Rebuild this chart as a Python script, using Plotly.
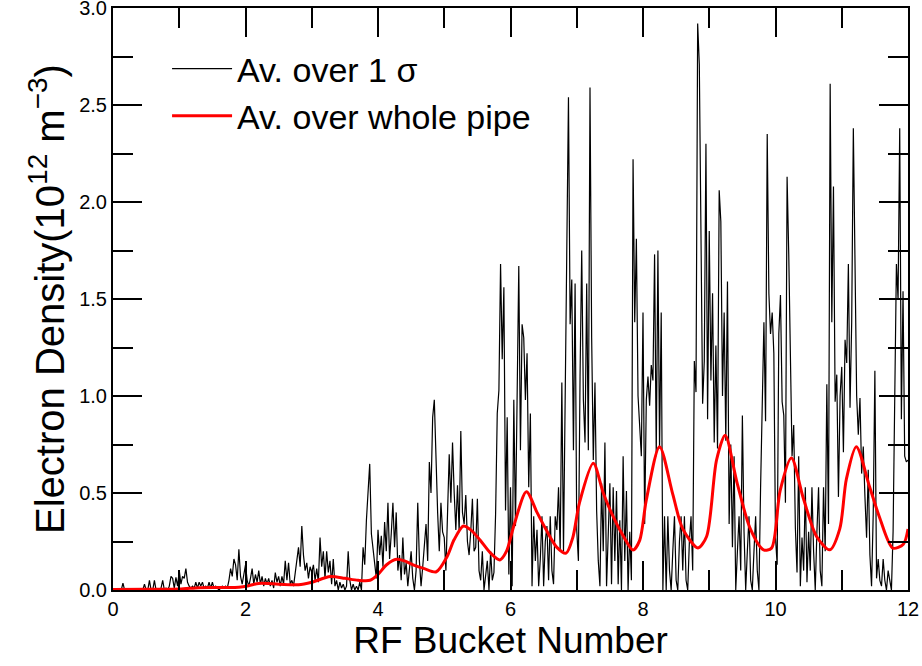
import plotly.graph_objects as go

# ---- data -------------------------------------------------------------
SAMPLE_STEP = 0.025  # RF-bucket spacing of the "1 sigma" samples

# Electron density averaged over 1 sigma (10^12 m^-3), one row per RF bucket
sigma_b0 = [0, 0, 0, 0, 0, 0, 0.035, 0, 0, 0, 0, 0, 0, 0, 0, 0, 0, 0, 0, 0.03,
            0, 0, 0.05, 0, 0, 0.05, 0, 0, 0, 0.01, 0.05, 0, 0.01, 0, 0.02, 0.07, 0.06, 0.01, 0.065, 0.02]
sigma_b1 = [0.10, 0.03, 0.07, 0.06, 0.11, 0.04, 0.02, 0.01, 0.02, 0.01, 0.04, 0.01, 0.04, 0.02, 0.04, 0.01, 0.02, 0.01, 0.04, 0.01,
            0.04, 0.01, 0.02, 0.01, 0.0, 0.01, 0.02, 0.01, 0.02, 0.01, 0.05, 0.11, 0.07, 0.16, 0.13, 0.05, 0.21, 0.07, 0.03, 0.08]
sigma_b2 = [0.13, 0.05, 0.02, 0.06, 0.11, 0.03, 0.08, 0.04, 0.10, 0.03, 0.07, 0.02, 0.06, 0.03, 0.06, 0.02, 0.05, 0.01, 0.09, 0.04,
            0.07, 0.02, 0.07, 0.03, 0.15, 0.05, 0.14, 0.03, 0.05, 0.02, 0.08, 0.16, 0.22, 0.12, 0.33, 0.18, 0.10, 0.14, 0.06, 0.12]
sigma_b3 = [0.09, 0.13, 0.05, 0.11, 0.04, 0.27, 0.12, 0.20, 0.06, 0.20, 0.09, 0.15, 0.03, 0.16, 0.02, 0.05, 0.0, 0.04, 0.01, 0.03,
            0.0, 0.02, 0.20, 0.05, 0.0, 0.03, 0.0, 0.02, 0.0, 0.04, 0.0, 0.22, 0.13, 0.36, 0.48, 0.65, 0.29, 0.20, 0.12, 0.06]
sigma_b4 = [0.31, 0.18, 0.28, 0.12, 0.35, 0.20, 0.45, 0.16, 0.29, 0.45, 0.22, 0.40, 0.10, 0.18, 0.05, 0.27, 0.08, 0.14, 0.02, 0.12,
            0.20, 0.06, 0.0, 0.10, 0.45, 0.15, 0.02, 0.12, 0.22, 0.34, 0.15, 0.66, 0.50, 0.89, 0.98, 0.66, 0.40, 0.20, 0.45, 0.30]
sigma_b5 = [0.27, 0.10, 0.35, 0.70, 0.45, 0.76, 0.50, 0.31, 0.54, 0.30, 0.82, 0.40, 0.34, 0.49, 0.25, 0.18, 0.30, 0.47, 0.20, 0.22,
            0.47, 0.10, 0.05, 0.20, 0.0, 0.09, 0.15, 0.0, 0.20, 0.05, 0.09, 0.39, 0.91, 1.03, 1.68, 1.19, 1.56, 0.41, 0.89, 0.08]
sigma_b6 = [0.53, 0.02, 0.98, 0.33, 1.13, 1.67, 0.72, 1.37, 1.30, 0.98, 1.22, 0.53, 0.91, 0.02, 0.38, 0.15, 0.31, 0.02, 0.16, 0.38,
            0.02, 0.25, 0.33, 0.05, 0.38, 0.10, 0.03, 0.38, 0.31, 0.53, 0.20, 1.07, 0.20, 0.91, 1.60, 2.54, 1.37, 1.60, 0.72, 1.58]
sigma_b7 = [0.31, 0.15, 1.10, 1.75, 0.98, 0.76, 1.58, 0.72, 2.59, 1.30, 0.67, 1.07, 0.41, 0.15, 0.02, 0.55, 0.20, 0.76, 0.02, 0.31,
            0.55, 0.03, 0.53, 0.15, 0.51, 0.03, 0.36, 0.0, 0.69, 0.15, 0.51, 0.0, 0.30, 0.05, 2.22, 1.38, 1.81, 1.00, 0.80, 0.69]
sigma_b8 = [1.43, 0.34, 0.98, 1.10, 0.95, 1.16, 1.08, 1.73, 0.69, 1.75, 0.73, 1.43, 0.0, 0.38, 0.0, 0.38, 0.10, 0.0, 0.20, 0.38,
            0.05, 0.0, 0.25, 0.38, 0.10, 0.38, 0.05, 0.0, 0.25, 0.38, 0.10, 1.18, 1.02, 2.92, 2.71, 1.79, 0.96, 1.18, 2.30, 0.88]
sigma_b9 = [1.85, 1.08, 1.53, 0.76, 1.26, 0.73, 2.06, 1.90, 1.00, 1.43, 0.77, 1.59, 0.34, 0.75, 0.22, 0.69, 0.0, 0.20, 0.38, 0.10,
            0.90, 0.30, 0.0, 0.20, 0.38, 0.05, 0.0, 0.20, 0.38, 0.10, 0.0, 0.53, 0.90, 1.38, 0.87, 2.35, 1.53, 1.32, 1.43, 1.22]
sigma_b10 = [0.27, 0.13, 1.32, 1.52, 0.97, 0.90, 0.45, 2.13, 1.73, 1.06, 0.69, 0.85, 0.32, 0.09, 0.69, 0.02, 0.27, 0.10, 0.53, 0.04,
             0.30, 0.10, 0.53, 0.20, 0.0, 0.30, 0.53, 0.10, 0.02, 0.53, 0.20, 1.06, 0.34, 2.61, 1.38, 2.08, 0.97, 1.11, 0.48, 1.00]
sigma_b11 = [1.15, 0.71, 1.29, 1.17, 1.68, 0.94, 1.38, 2.38, 1.50, 1.00, 0.80, 0.99, 0.60, 0.74, 0.48, 0.27, 0.62, 0.18, 0.02, 0.39,
             1.13, 0.06, 0.16, 0.05, 0.02, 0.16, 0.05, 0.0, 0.10, 0.04, 0.0, 0.30, 1.15, 1.68, 1.50, 2.38, 0.88, 1.54, 0.69, 0.66]
sigma_end = [0.67]

sigma_density = (sigma_b0 + sigma_b1 + sigma_b2 + sigma_b3 + sigma_b4 + sigma_b5 + sigma_b6 +
                 sigma_b7 + sigma_b8 + sigma_b9 + sigma_b10 + sigma_b11 + sigma_end)
sigma_bucket = [round(i * SAMPLE_STEP, 3) for i in range(len(sigma_density))]

# Electron density averaged over the whole pipe
pipe_bucket = [0, 0.5, 1.0, 1.3, 1.6, 1.9, 2.05, 2.2, 2.5, 2.8, 3.0, 3.28, 3.5, 3.7, 3.88, 4.0, 4.13, 4.28,
               4.4, 4.53, 4.7, 4.88, 5.04, 5.15, 5.29, 5.4, 5.54, 5.7, 5.84, 5.94, 6.05, 6.24, 6.4, 6.54,
               6.7, 6.84, 6.94, 7.04, 7.25, 7.4, 7.55, 7.7, 7.85, 7.95, 8.05, 8.25, 8.45, 8.6, 8.83, 8.96,
               9.11, 9.24, 9.42, 9.62, 9.82, 9.94, 10.07, 10.24, 10.42, 10.62, 10.82, 10.97, 11.07, 11.22,
               11.42, 11.57, 11.77, 11.93, 12.0]
pipe_density = [0.003, 0.004, 0.005, 0.012, 0.013, 0.014, 0.022, 0.034, 0.030, 0.027, 0.040, 0.069, 0.060,
                0.050, 0.050, 0.080, 0.130, 0.158, 0.150, 0.130, 0.110, 0.094, 0.170, 0.260, 0.330, 0.310,
                0.258, 0.190, 0.155, 0.200, 0.330, 0.507, 0.400, 0.309, 0.220, 0.190, 0.270, 0.448, 0.653,
                0.500, 0.378, 0.280, 0.206, 0.256, 0.464, 0.739, 0.493, 0.315, 0.217, 0.276, 0.670, 0.798,
                0.552, 0.315, 0.207, 0.216, 0.512, 0.680, 0.473, 0.276, 0.207, 0.315, 0.572, 0.739, 0.532,
                0.375, 0.216, 0.236, 0.315]

x_tick_vals = [0, 2, 4, 6, 8, 10, 12]
y_tick_vals = [0.0, 0.5, 1.0, 1.5, 2.0, 2.5, 3.0]

# ---- figure -----------------------------------------------------------
FONT = "Liberation Sans, Arial, Helvetica, sans-serif"

fig = go.Figure()
fig.add_trace(go.Scatter(x=sigma_bucket, y=sigma_density, mode="lines",
                         line=dict(color="black", width=1.2),
                         name="Av. over 1 σ"))
fig.add_trace(go.Scatter(x=pipe_bucket, y=pipe_density, mode="lines",
                         line=dict(color="#ff0000", width=3, shape="spline", smoothing=0.8),
                         name="Av. over whole pipe"))

fig.update_layout(
    width=922, height=666,
    margin=dict(l=113, r=14, t=8, b=76, autoexpand=False),
    paper_bgcolor="white", plot_bgcolor="white",
    font=dict(family=FONT, color="black"),
    showlegend=True,
    legend=dict(x=0.068, y=0.945, xanchor="left", yanchor="top",
                font=dict(size=34, family=FONT, color="black"),
                bgcolor="rgba(0,0,0,0)", itemwidth=60, tracegroupgap=0),
)
axis_common = dict(
    ticks="inside", ticklen=29, tickwidth=1.5, tickcolor="black",
    showline=True, linecolor="black", linewidth=2, mirror="ticks",
    showgrid=False, zeroline=False, automargin=False, ticklabeloverflow="allow",
    tickfont=dict(size=20, family=FONT, color="black"),
)
fig.update_xaxes(
    range=[0, 12], tickmode="array", tickvals=x_tick_vals,
    ticktext=[str(v) for v in x_tick_vals],
    minor=dict(dtick=1, tick0=0, ticks="inside", ticklen=20, tickwidth=1.5, tickcolor="black", showgrid=False),
    title=dict(text="RF Bucket Number", font=dict(size=37, family=FONT, color="black"), standoff=4),
    **axis_common,
)
fig.update_yaxes(
    range=[0, 3], tickmode="array", tickvals=y_tick_vals,
    ticktext=[f"{v:.1f}" for v in y_tick_vals],
    minor=dict(dtick=0.25, tick0=0, ticks="inside", ticklen=20, tickwidth=1.5, tickcolor="black", showgrid=False),
    title=dict(text="Electron Density(10<sup>12</sup> m<sup>−3</sup>)",
               font=dict(size=40, family=FONT, color="black"), standoff=2),
    **axis_common,
)

# remove the browser's default 8px page margin so the figure sits at (0, 0)
fig.write_html("out.html", config={"displayModeBar": False},
               post_script="document.body.style.margin='0px';")
